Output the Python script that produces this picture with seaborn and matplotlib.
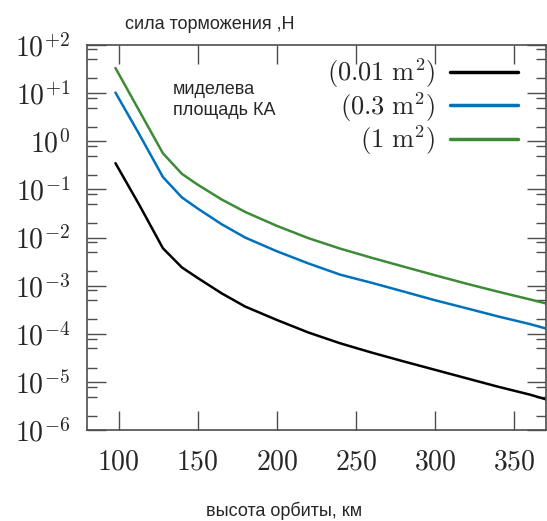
import numpy as np
import pandas as pd
import matplotlib
matplotlib.use('Agg')
import matplotlib.pyplot as plt
import matplotlib.ticker as mticker
import seaborn as sns

# altitude, km
altitude = [98, 113, 128, 140, 150, 165, 180, 200, 220, 240, 260, 280, 300, 320, 340, 360, 370]

# drag force, N
force_001 = [0.35, 0.048, 0.006, 2.4e-3, 1.45e-3, 7.0e-4, 3.7e-4, 1.95e-4, 1.07e-4, 6.4e-5,
             4.1e-5, 2.7e-5, 1.8e-5, 1.2e-5, 8.0e-6, 5.5e-6, 4.4e-6]
force_03 = [10.2, 1.4, 0.18, 0.068, 0.040, 0.019, 0.0100, 0.0052, 0.0029, 0.0017,
            1.15e-3, 7.6e-4, 5.0e-4, 3.4e-4, 2.3e-4, 1.6e-4, 1.3e-4]
force_1 = [33.0, 4.3, 0.56, 0.21, 0.125, 0.062, 0.034, 0.0175, 0.0097, 0.0059,
           0.0038, 0.0025, 0.00165, 0.0011, 7.5e-4, 5.2e-4, 4.3e-4]

area_labels = [r'$(0.01\ \mathrm{m}^2)$', r'$(0.3\ \mathrm{m}^2)$', r'$(1\ \mathrm{m}^2)$']
colors = ['#000000', '#0072BD', '#3D8B37']

df = pd.concat([
    pd.DataFrame({'alt': altitude, 'force': f, 'area': lab})
    for f, lab in zip([force_001, force_03, force_1], area_labels)
])

sns.set_style('ticks')
plt.rcParams['font.family'] = ['Liberation Sans', 'DejaVu Sans']
plt.rcParams['mathtext.fontset'] = 'cm'

fig = plt.figure(figsize=(5.47, 5.21), dpi=100)
ax = fig.add_axes([0.159, 0.174, 0.839, 0.740])

sns.lineplot(data=df, x='alt', y='force', hue='area', palette=dict(zip(area_labels, colors)),
             linewidth=1.8, ax=ax)

ax.set_yscale('log')
ax.set_xlim(80, 370)
ax.set_ylim(1e-6, 1e2)
ax.set_xticks([100, 150, 200, 250, 300, 350])
ax.xaxis.set_major_formatter(mticker.FuncFormatter(lambda v, p: rf'${int(v)}$'))
ax.yaxis.set_major_locator(mticker.LogLocator(base=10, numticks=20))
ax.yaxis.set_minor_locator(mticker.LogLocator(base=10, subs=(2, 5, 8), numticks=20))
ax.yaxis.set_minor_formatter(mticker.NullFormatter())


def ylab(v, p):
    e = int(round(np.log10(v)))
    s = f'+{e}' if e > 0 else f'{e}'
    return rf'$10^{{{s}}}$'


ax.yaxis.set_major_formatter(mticker.FuncFormatter(ylab))

for s in ax.spines.values():
    s.set_color('#4d4d4d')
    s.set_linewidth(1.2)
ax.tick_params(which='both', direction='in', top=True, right=True, color='#4d4d4d',
               labelsize=20)
ax.tick_params(which='major', length=14, width=1.0)
ax.tick_params(axis='y', which='major', pad=12)
ax.tick_params(axis='x', which='major', pad=14)
ax.tick_params(which='minor', length=7, width=1.0)
ax.tick_params(axis='x', which='minor', bottom=False, top=False)

ax.set_xlabel('')
ax.set_ylabel('')
fig.text(0.229, 0.953, 'сила торможения ,Н', fontsize=13, va='center', ha='left')
fig.text(0.52, 0.019, 'высота орбиты, км', fontsize=13, va='center', ha='center')
ax.text(0.187, 0.905, 'миделева\nплощадь КА', transform=ax.transAxes, fontsize=13,
        va='top', ha='left', linespacing=1.3)

handles, labels = ax.get_legend_handles_labels()
ax.legend(handles, labels, loc='upper right', bbox_to_anchor=(0.983, 1.022),
          frameon=False, markerfirst=False,
          fontsize=19, handlelength=2.6, handletextpad=0.55, labelspacing=0.0,
          borderaxespad=0.55, borderpad=0.2)
for line in ax.get_legend().get_lines():
    line.set_linewidth(2.5)

fig.savefig('out.png', dpi=100)
